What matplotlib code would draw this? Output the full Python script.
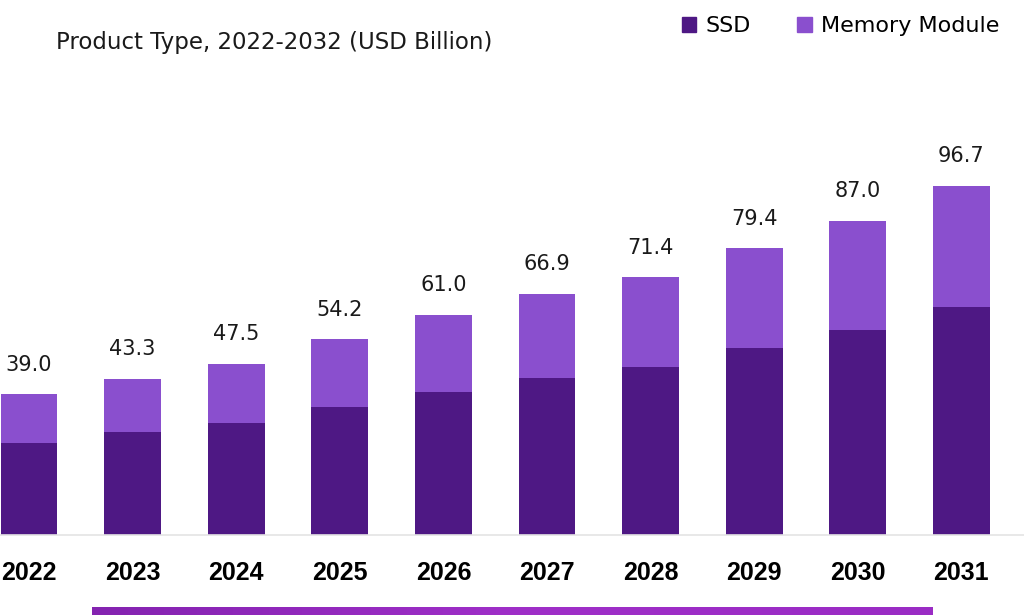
import numpy as np
import matplotlib.pyplot as plt
from matplotlib.patches import Patch
from matplotlib.colors import LinearSegmentedColormap

years = ["2022", "2023", "2024", "2025", "2026", "2027", "2028", "2029", "2030", "2031"]
totals = [39.0, 43.3, 47.5, 54.2, 61.0, 66.9, 71.4, 79.4, 87.0, 96.7]
ssd = [25.5, 28.5, 31.0, 35.5, 39.6, 43.5, 46.5, 51.8, 56.8, 63.2]
memory = [t - s for t, s in zip(totals, ssd)]

c_ssd = "#4e1884"
c_mem = "#8a4fce"

W, H = 1024, 615
fig = plt.figure(figsize=(W / 100, H / 100), dpi=100)

# axes placed in pixel terms: baseline at y=535, bars 103.6 px apart
base_px = 535
top_px = 100
ax = fig.add_axes([0, (H - base_px) / H, 1, (base_px - top_px) / H])
px_per_unit = 3.609
x = np.arange(len(years))
ax.set_xlim(-29 / 103.6, (W - 29) / 103.6)
ax.set_ylim(0, (base_px - top_px) / px_per_unit)

ax.bar(x, ssd, width=0.55, color=c_ssd)
ax.bar(x, memory, width=0.55, bottom=ssd, color=c_mem)

for xi, t in zip(x, totals):
    ax.text(xi, t + 8.2, f"{t:.1f}", ha="center", va="center",
            fontsize=15, family="DejaVu Sans", color="#1a1a1a")

for s in ["top", "right", "left"]:
    ax.spines[s].set_visible(False)
ax.spines["bottom"].set_color("#e4e4e4")
ax.spines["bottom"].set_linewidth(1.2)
ax.set_yticks([])
ax.set_xticks(x)
ax.set_xticklabels(years, fontsize=18, fontweight="bold", family="Liberation Sans")
ax.tick_params(axis="x", length=0, pad=19)

# subtitle (left part cropped in the original)
fig.text(492 / W, 1 - 42 / H, "Product Type, 2022-2032 (USD Billion)", ha="right", va="center",
         fontsize=16.5, family="DejaVu Sans", color="#1a1a1a")

# legend
fig.legend(handles=[Patch(color=c_ssd, label="SSD"), Patch(color=c_mem, label="Memory Module")],
           loc="center left", bbox_to_anchor=(662 / W, 1 - 26 / H), ncol=2, frameon=False,
           prop={"family": "DejaVu Sans", "size": 16},
           handlelength=0.65, handleheight=0.65, handletextpad=0.4, columnspacing=2.1)

# purple gradient banner at the bottom edge
bax = fig.add_axes([92 / W, 0, (933 - 92) / W, 8 / H])
grad = LinearSegmentedColormap.from_list("banner", ["#8423b0", "#9f2fc8", "#9a2cc4"])
bax.imshow(np.linspace(0, 1, 256)[None, :], aspect="auto", cmap=grad)
bax.axis("off")

plt.savefig("out.png", dpi=100)
